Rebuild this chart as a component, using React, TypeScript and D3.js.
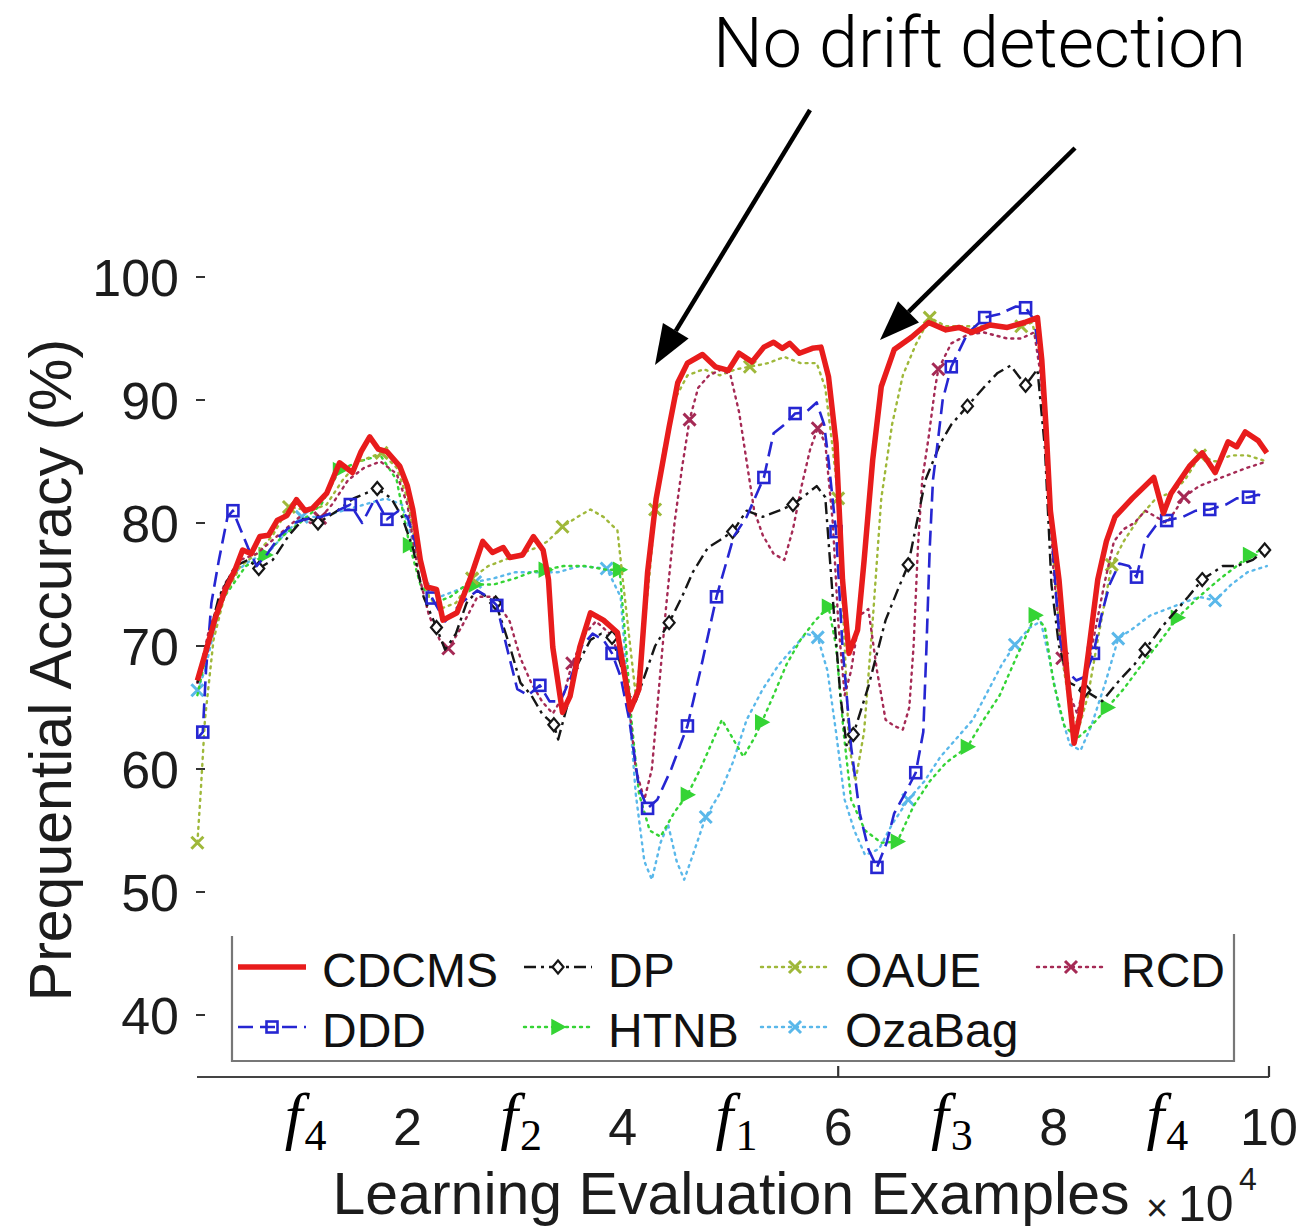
import React from 'react';
import * as d3 from 'd3';

type Pt = [number, number];

// Axis ticks and drift-concept labels (x in units of 10^4 examples)
const xTickValues = [2, 4, 6, 8, 10];
const xTickMarks = [6, 10];
const yTickValues = [40, 50, 60, 70, 80, 90, 100];
const driftPositions = [1, 3, 5, 7, 9];
const driftSubscripts = ['4', '2', '1', '3', '4'];

// Prequential accuracy (%) per method
const cdcms: Pt[] = [
  [0.05, 67.2], [0.12, 69.3], [0.21, 72.1], [0.31, 74.6], [0.40, 76.2], [0.47, 77.8], [0.55, 77.5], [0.63, 78.9],
  [0.71, 79.0], [0.79, 80.2], [0.88, 80.6], [0.97, 81.9], [1.05, 81.0], [1.12, 81.2], [1.25, 82.4], [1.37, 84.9],
  [1.49, 84.1], [1.57, 85.8], [1.65, 87.0], [1.73, 86.0], [1.81, 85.8], [1.93, 84.6], [2.00, 83.0], [2.05, 81.1],
  [2.12, 77.0], [2.18, 74.8], [2.27, 74.6], [2.33, 72.1], [2.46, 72.7], [2.58, 75.4], [2.70, 78.5], [2.79, 77.6],
  [2.89, 78.0], [2.95, 77.2], [3.07, 77.4], [3.17, 78.9], [3.26, 77.8], [3.31, 75.4], [3.35, 69.9], [3.44, 64.6],
  [3.51, 65.9], [3.60, 69.9], [3.70, 72.7], [3.82, 72.1], [3.95, 71.1], [4.02, 67.5], [4.07, 64.8], [4.15, 66.5],
  [4.23, 76.0], [4.31, 82.0], [4.43, 87.8], [4.51, 91.4], [4.60, 93.0], [4.74, 93.7], [4.86, 92.7], [4.98, 92.4],
  [5.08, 93.8], [5.20, 93.1], [5.31, 94.3], [5.40, 94.7], [5.48, 94.2], [5.55, 94.6], [5.64, 93.8], [5.76, 94.2],
  [5.84, 94.3], [5.91, 91.9], [5.98, 86.5], [6.04, 75.4], [6.10, 69.4], [6.18, 71.3], [6.24, 76.9], [6.32, 85.1],
  [6.40, 91.1], [6.52, 94.1], [6.68, 95.1], [6.84, 96.3], [7.00, 95.7], [7.12, 95.9], [7.24, 95.5], [7.41, 96.1],
  [7.57, 95.9], [7.73, 96.3], [7.85, 96.7], [7.89, 93.3], [7.93, 87.8], [7.97, 81.0], [8.05, 75.4], [8.13, 67.2],
  [8.19, 62.1], [8.25, 64.6], [8.33, 69.9], [8.41, 75.4], [8.49, 78.5], [8.57, 80.5], [8.73, 82.0], [8.93, 83.7],
  [9.02, 80.8], [9.09, 82.4], [9.26, 84.6], [9.38, 85.7], [9.50, 84.1], [9.62, 86.6], [9.70, 86.2], [9.78, 87.4],
  [9.90, 86.7], [9.98, 85.7],
];

const dp: Pt[] = [
  [0.05, 67.0], [0.15, 70.5], [0.25, 74.0], [0.40, 76.5], [0.52, 77.0], [0.62, 76.3], [0.75, 77.0], [0.90, 79.0],
  [1.05, 80.5], [1.17, 80.0], [1.35, 81.0], [1.50, 82.0], [1.72, 82.8], [1.85, 82.0], [1.95, 80.5], [2.05, 78.0],
  [2.15, 74.0], [2.27, 71.5], [2.35, 69.7], [2.45, 71.0], [2.55, 73.5], [2.65, 74.5], [2.82, 73.5], [2.95, 70.0],
  [3.05, 67.0], [3.15, 66.0], [3.25, 64.5], [3.36, 63.6], [3.40, 62.4], [3.48, 65.0], [3.58, 68.5], [3.70, 70.5],
  [3.80, 71.0], [3.90, 70.7], [3.98, 68.5], [4.05, 66.0], [4.12, 65.5], [4.20, 67.5], [4.30, 70.0], [4.43, 71.9],
  [4.55, 74.0], [4.65, 76.0], [4.79, 78.0], [4.90, 78.6], [5.02, 79.3], [5.15, 81.0], [5.30, 80.5], [5.45, 81.0],
  [5.58, 81.5], [5.70, 82.3], [5.80, 83.0], [5.88, 82.1], [5.96, 72.7], [6.02, 66.0], [6.08, 61.8], [6.14, 62.8],
  [6.28, 66.7], [6.44, 72.1], [6.55, 74.5], [6.65, 76.6], [6.81, 83.5], [6.95, 86.5], [7.05, 88.0], [7.20, 89.5],
  [7.35, 91.0], [7.48, 92.2], [7.60, 92.8], [7.74, 91.2], [7.85, 92.5], [7.92, 86.0], [7.98, 75.0], [8.05, 70.0],
  [8.15, 67.0], [8.29, 66.4], [8.45, 65.5], [8.61, 67.2], [8.75, 68.5], [8.85, 69.7], [9.00, 71.5], [9.15, 73.0],
  [9.25, 74.0], [9.38, 75.4], [9.57, 76.5], [9.70, 76.5], [9.85, 77.0], [9.96, 77.8],
];
const dpMarks: Pt[] = [
  [0.62, 76.3], [1.17, 80.0], [1.72, 82.8], [2.27, 71.5], [2.82, 73.5], [3.36, 63.6], [3.90, 70.7], [4.43, 71.9],
  [5.02, 79.3], [5.58, 81.5], [6.14, 62.8], [6.65, 76.6], [7.20, 89.5], [7.74, 91.2], [8.29, 66.4], [8.85, 69.7],
  [9.38, 75.4], [9.96, 77.8],
];

const ddd: Pt[] = [
  [0.05, 62.5], [0.10, 63.0], [0.13, 68.0], [0.18, 73.5], [0.25, 77.0], [0.33, 80.5], [0.38, 81.0], [0.45, 79.5],
  [0.52, 78.0], [0.60, 76.5], [0.70, 77.5], [0.82, 79.0], [0.95, 80.0], [1.05, 80.3], [1.20, 80.5], [1.35, 81.0],
  [1.47, 81.5], [1.58, 80.0], [1.70, 82.0], [1.81, 80.3], [1.92, 81.0], [2.00, 80.5], [2.07, 78.5], [2.15, 75.5],
  [2.23, 73.9], [2.35, 72.0], [2.50, 73.5], [2.65, 74.5], [2.75, 74.0], [2.83, 73.3], [2.92, 70.0], [3.02, 66.5],
  [3.12, 66.0], [3.23, 66.8], [3.32, 65.5], [3.42, 65.5], [3.52, 67.5], [3.62, 70.0], [3.72, 71.0], [3.82, 70.5],
  [3.90, 69.4], [3.98, 67.5], [4.06, 64.0], [4.15, 58.5], [4.23, 56.8], [4.32, 57.5], [4.45, 60.0], [4.60, 63.5],
  [4.72, 68.0], [4.87, 74.0], [5.03, 78.9], [5.15, 80.5], [5.31, 83.7], [5.40, 87.3], [5.50, 88.0], [5.60, 88.9],
  [5.70, 89.0], [5.80, 89.8], [5.87, 88.0], [5.91, 85.1], [5.98, 79.3], [6.04, 69.9], [6.12, 61.8], [6.20, 56.4],
  [6.28, 53.5], [6.36, 52.0], [6.45, 54.0], [6.52, 56.4], [6.62, 58.0], [6.72, 59.7], [6.79, 63.0], [6.82, 70.0],
  [6.85, 78.0], [6.88, 83.5], [6.93, 87.0], [6.97, 90.0], [7.05, 92.7], [7.20, 95.4], [7.36, 96.7], [7.50, 97.0],
  [7.65, 97.6], [7.74, 97.5], [7.82, 96.5], [7.88, 93.0], [7.94, 86.0], [8.00, 77.0], [8.05, 71.0], [8.12, 68.0],
  [8.21, 67.2], [8.29, 67.5], [8.37, 69.4], [8.45, 72.7], [8.52, 75.0], [8.61, 76.7], [8.70, 76.5], [8.77, 75.6],
  [8.85, 78.6], [8.95, 79.8], [9.05, 80.2], [9.20, 80.5], [9.32, 81.0], [9.45, 81.1], [9.60, 81.5], [9.70, 82.0],
  [9.81, 82.1], [9.90, 82.3], [9.98, 82.1],
];
const dddMarks: Pt[] = [
  [0.10, 63.0], [0.38, 81.0], [1.47, 81.5], [1.81, 80.3], [2.23, 73.9], [2.83, 73.3], [3.23, 66.8], [3.90, 69.4],
  [4.23, 56.8], [4.60, 63.5], [4.87, 74.0], [5.31, 83.7], [5.60, 88.9], [5.98, 79.3], [6.36, 52.0], [6.72, 59.7],
  [7.05, 92.7], [7.36, 96.7], [7.74, 97.5], [8.37, 69.4], [8.77, 75.6], [9.05, 80.2], [9.45, 81.1], [9.81, 82.1],
];

const oaue: Pt[] = [
  [0.05, 54.0], [0.08, 58.0], [0.12, 64.0], [0.20, 70.5], [0.30, 74.0], [0.45, 76.5], [0.60, 77.5], [0.75, 79.0],
  [0.90, 81.3], [1.10, 81.0], [1.25, 81.5], [1.40, 83.5], [1.55, 85.0], [1.76, 85.7], [1.90, 84.5], [2.00, 82.0],
  [2.10, 77.0], [2.20, 74.0], [2.30, 73.0], [2.45, 73.5], [2.60, 75.5], [2.75, 76.5], [2.90, 77.0], [3.05, 77.5],
  [3.20, 78.0], [3.30, 78.5], [3.44, 79.7], [3.58, 80.5], [3.70, 81.1], [3.82, 80.5], [3.95, 79.4], [4.00, 75.4],
  [4.07, 69.9], [4.12, 66.0], [4.18, 70.0], [4.25, 76.0], [4.30, 81.1], [4.38, 86.0], [4.48, 90.0], [4.60, 92.0],
  [4.75, 92.5], [4.90, 92.0], [5.05, 92.5], [5.18, 92.7], [5.35, 93.0], [5.50, 93.5], [5.65, 93.0], [5.80, 93.0],
  [5.88, 91.0], [5.95, 86.0], [6.00, 82.0], [6.05, 72.0], [6.10, 62.0], [6.16, 59.0], [6.24, 63.0], [6.32, 72.0],
  [6.40, 82.0], [6.50, 88.0], [6.60, 92.0], [6.72, 94.5], [6.85, 96.7], [7.00, 96.0], [7.20, 96.0], [7.40, 96.0],
  [7.60, 96.0], [7.70, 96.0], [7.80, 96.3], [7.87, 94.0], [7.93, 87.0], [8.00, 77.0], [8.08, 69.0], [8.16, 64.5],
  [8.24, 63.5], [8.32, 66.0], [8.42, 71.0], [8.54, 76.6], [8.65, 78.5], [8.80, 80.5], [8.95, 82.0], [9.10, 82.5],
  [9.22, 83.5], [9.36, 85.5], [9.50, 85.0], [9.65, 85.5], [9.80, 85.5], [9.98, 85.0],
];
const oaueMarks: Pt[] = [
  [0.05, 54.0], [0.90, 81.3], [1.76, 85.7], [2.60, 75.5], [3.44, 79.7], [4.30, 81.1], [5.18, 92.7], [6.00, 82.0],
  [6.85, 96.7], [7.70, 96.0], [8.54, 76.6], [9.36, 85.5],
];

const htnb: Pt[] = [
  [0.05, 66.0], [0.15, 70.0], [0.30, 74.0], [0.50, 76.5], [0.68, 77.4], [0.85, 79.0], [1.00, 80.0], [1.20, 81.5],
  [1.37, 84.3], [1.55, 85.0], [1.75, 85.5], [1.90, 83.5], [2.02, 78.2], [2.12, 75.0], [2.25, 73.5], [2.40, 74.0],
  [2.55, 75.0], [2.63, 75.0], [2.80, 75.0], [3.00, 75.5], [3.15, 76.0], [3.28, 76.2], [3.45, 76.5], [3.65, 76.5],
  [3.85, 76.2], [3.97, 76.2], [4.03, 70.0], [4.08, 64.0], [4.15, 58.0], [4.25, 55.0], [4.35, 54.5], [4.48, 56.5],
  [4.60, 57.9], [4.72, 60.0], [4.82, 62.0], [4.92, 64.0], [5.02, 62.5], [5.12, 61.0], [5.22, 62.5], [5.29, 63.8],
  [5.40, 66.0], [5.52, 68.5], [5.65, 70.5], [5.78, 72.0], [5.91, 73.2], [5.98, 70.0], [6.05, 63.0], [6.12, 57.5],
  [6.25, 55.0], [6.40, 54.0], [6.55, 54.1], [6.70, 57.0], [6.85, 59.0], [7.00, 60.5], [7.20, 61.8], [7.35, 64.0],
  [7.50, 66.0], [7.65, 69.0], [7.83, 72.5], [7.92, 71.5], [8.00, 67.0], [8.10, 63.5], [8.22, 62.5], [8.35, 63.5],
  [8.50, 65.0], [8.65, 66.5], [8.82, 68.5], [9.00, 70.5], [9.15, 72.3], [9.35, 74.0], [9.55, 75.5], [9.70, 76.5],
  [9.82, 77.4], [9.98, 78.0],
];
const htnbMarks: Pt[] = [
  [0.68, 77.4], [1.37, 84.3], [2.02, 78.2], [2.63, 75.0], [3.28, 76.2], [3.97, 76.2], [4.60, 57.9], [5.29, 63.8],
  [5.91, 73.2], [6.55, 54.1], [7.20, 61.8], [7.83, 72.5], [8.50, 65.0], [9.15, 72.3], [9.82, 77.4],
];

const ozaBag: Pt[] = [
  [0.05, 66.4], [0.12, 68.0], [0.25, 73.0], [0.40, 76.0], [0.55, 77.0], [0.70, 77.5], [0.85, 79.0], [1.02, 80.5],
  [1.20, 80.5], [1.40, 81.0], [1.60, 81.5], [1.80, 82.0], [1.95, 81.5], [2.05, 78.5], [2.15, 75.5], [2.30, 74.0],
  [2.45, 74.5], [2.63, 75.2], [2.80, 75.5], [3.00, 76.0], [3.20, 76.0], [3.40, 76.0], [3.60, 76.5], [3.85, 76.3],
  [3.98, 74.0], [4.05, 66.0], [4.12, 58.0], [4.20, 52.5], [4.27, 51.0], [4.35, 54.0], [4.42, 55.5], [4.50, 52.5],
  [4.57, 51.0], [4.65, 53.0], [4.77, 56.1], [4.90, 58.0], [5.02, 60.5], [5.15, 64.0], [5.30, 66.5], [5.45, 68.5],
  [5.60, 70.0], [5.70, 71.0], [5.81, 70.7], [5.90, 68.0], [5.98, 63.0], [6.06, 57.5], [6.15, 55.0], [6.25, 53.0],
  [6.38, 53.5], [6.50, 55.5], [6.65, 57.5], [6.80, 59.0], [6.95, 61.0], [7.10, 62.5], [7.25, 64.0], [7.40, 66.5],
  [7.52, 68.5], [7.64, 70.1], [7.78, 71.5], [7.88, 72.0], [7.96, 69.0], [8.05, 65.0], [8.15, 62.0], [8.25, 61.5],
  [8.35, 63.5], [8.48, 67.0], [8.60, 70.6], [8.75, 71.5], [8.90, 72.5], [9.05, 73.0], [9.20, 73.5], [9.35, 74.0],
  [9.50, 73.7], [9.65, 75.0], [9.80, 76.0], [9.98, 76.5],
];
const ozaBagMarks: Pt[] = [
  [0.05, 66.4], [1.02, 80.5], [2.63, 75.2], [3.85, 76.3], [4.77, 56.1], [5.81, 70.7], [6.65, 57.5], [7.64, 70.1],
  [8.60, 70.6], [9.50, 73.7],
];

const rcd: Pt[] = [
  [0.05, 67.0], [0.15, 71.0], [0.30, 75.0], [0.45, 77.0], [0.60, 77.5], [0.80, 79.0], [1.00, 80.5], [1.10, 80.0],
  [1.19, 80.4], [1.30, 81.5], [1.45, 83.5], [1.60, 84.5], [1.75, 85.0], [1.90, 84.0], [2.00, 81.5], [2.10, 76.0],
  [2.20, 72.5], [2.30, 70.5], [2.38, 69.8], [2.50, 71.5], [2.65, 74.0], [2.80, 74.0], [2.95, 72.0], [3.05, 69.0],
  [3.15, 67.0], [3.25, 65.5], [3.35, 64.5], [3.45, 66.0], [3.53, 68.6], [3.65, 71.0], [3.75, 72.0], [3.88, 71.0],
  [3.98, 69.0], [4.06, 65.0], [4.12, 60.0], [4.20, 57.5], [4.27, 60.0], [4.33, 66.0], [4.40, 73.0], [4.48, 80.0],
  [4.55, 84.5], [4.62, 88.4], [4.70, 91.0], [4.80, 92.0], [4.92, 92.5], [5.00, 92.0], [5.08, 89.0], [5.15, 85.0],
  [5.22, 81.0], [5.30, 79.0], [5.40, 77.5], [5.50, 77.0], [5.58, 79.5], [5.66, 83.0], [5.74, 86.0], [5.81, 87.7],
  [5.88, 86.5], [5.95, 80.0], [6.00, 72.0], [6.06, 66.0], [6.12, 68.0], [6.20, 72.5], [6.28, 73.0], [6.36, 68.0],
  [6.44, 64.0], [6.52, 63.5], [6.60, 63.2], [6.66, 65.0], [6.70, 70.0], [6.74, 78.0], [6.78, 83.5], [6.84, 87.0],
  [6.90, 91.0], [6.93, 92.5], [7.05, 94.6], [7.20, 95.3], [7.35, 95.5], [7.57, 95.0], [7.70, 95.0], [7.82, 95.5],
  [7.88, 92.0], [7.94, 85.0], [8.00, 76.0], [8.08, 69.0], [8.15, 66.0], [8.22, 64.5], [8.30, 67.5], [8.38, 71.0],
  [8.47, 75.0], [8.56, 78.5], [8.65, 79.5], [8.75, 80.0], [8.85, 81.0], [8.95, 80.5], [9.05, 80.0], [9.13, 81.0],
  [9.21, 82.1], [9.35, 83.0], [9.50, 83.5], [9.65, 84.0], [9.80, 84.5], [9.98, 85.0],
];
const rcdMarks: Pt[] = [
  [1.19, 80.4], [2.38, 69.8], [3.53, 68.6], [4.62, 88.4], [5.81, 87.7], [6.93, 92.5], [8.08, 69.0], [9.21, 82.1],
];

type MarkerKind = 'none' | 'diamond' | 'square' | 'cross' | 'triangle';

interface SeriesDef {
  name: string;
  data: Pt[];
  marks: Pt[];
  color: string;
  width: number;
  dash: string;
  marker: MarkerKind;
}

const seriesDefs: SeriesDef[] = [
  { name: 'OzaBag', data: ozaBag, marks: ozaBagMarks, color: '#5ab8ea', width: 2.4, dash: '2 5', marker: 'cross' },
  { name: 'HTNB', data: htnb, marks: htnbMarks, color: '#35d435', width: 2.4, dash: '2 5', marker: 'triangle' },
  { name: 'OAUE', data: oaue, marks: oaueMarks, color: '#9fb83a', width: 2.4, dash: '2 5', marker: 'cross' },
  { name: 'RCD', data: rcd, marks: rcdMarks, color: '#a52a55', width: 2.4, dash: '2 5', marker: 'cross' },
  { name: 'DP', data: dp, marks: dpMarks, color: '#161616', width: 2.4, dash: '12 5 3 5', marker: 'diamond' },
  { name: 'DDD', data: ddd, marks: dddMarks, color: '#2626d2', width: 2.6, dash: '15 7', marker: 'square' },
  { name: 'CDCMS', data: cdcms, marks: [], color: '#e81c1c', width: 5.5, dash: '', marker: 'none' },
];

const legendRow1 = ['CDCMS', 'DP', 'OAUE', 'RCD'];
const legendRow2 = ['DDD', 'HTNB', 'OzaBag'];

const FONT = '"Liberation Sans", Arial, Helvetica, sans-serif';

function Marker({ kind, cx, cy, color }: { kind: MarkerKind; cx: number; cy: number; color: string }) {
  if (kind === 'diamond') {
    return <path d={`M${cx},${cy - 6.5}L${cx + 5.5},${cy}L${cx},${cy + 6.5}L${cx - 5.5},${cy}Z`} fill="#fff" stroke={color} strokeWidth={2.2} />;
  }
  if (kind === 'square') {
    return <rect x={cx - 5.5} y={cy - 5.5} width={11} height={11} fill="none" stroke={color} strokeWidth={2.6} />;
  }
  if (kind === 'cross') {
    const s = 6;
    return (
      <path d={`M${cx - s},${cy - s}L${cx + s},${cy + s}M${cx - s},${cy + s}L${cx + s},${cy - s}`} stroke={color} strokeWidth={3} fill="none" />
    );
  }
  if (kind === 'triangle') {
    return <path d={`M${cx - 6},${cy - 7}L${cx + 7},${cy}L${cx - 6},${cy + 7}Z`} fill={color} stroke={color} strokeWidth={1.5} />;
  }
  return null;
}

function Arrow({ x1, y1, x2, y2 }: { x1: number; y1: number; x2: number; y2: number }) {
  const ang = Math.atan2(y2 - y1, x2 - x1);
  const len = 40;
  const half = 15;
  const bx = x2 - len * Math.cos(ang);
  const by = y2 - len * Math.sin(ang);
  const px = -Math.sin(ang) * half;
  const py = Math.cos(ang) * half;
  return (
    <g>
      <line x1={x1} y1={y1} x2={bx} y2={by} stroke="#000" strokeWidth={4.5} />
      <path d={`M${x2},${y2}L${bx + px},${by + py}L${bx - px},${by - py}Z`} fill="#000" />
    </g>
  );
}

export default function App() {
  const x = d3.scaleLinear().domain([0, 10]).range([192, 1269]);
  const y = d3.scaleLinear().domain([40, 100]).range([1015, 277]);
  const axisY = 1077;

  const line = d3
    .line<Pt>()
    .x((d) => x(d[0]))
    .y((d) => y(d[1]))
    .curve(d3.curveLinear);

  const merged = (s: SeriesDef): Pt[] => {
    const all = [...s.data];
    s.marks.forEach((m) => {
      if (!all.some((p) => Math.abs(p[0] - m[0]) < 1e-9)) all.push(m);
    });
    return d3.sort(all, (d) => d[0]);
  };

  const byName = new Map(seriesDefs.map((s) => [s.name, s]));
  const legendCols = [238, 524, 761, 1037];
  const sampleW = 68;
  const legendRows = [legendRow1, legendRow2];
  const rowY = [967, 1027];

  return (
    <svg
      width={1305}
      height={1231}
      viewBox="0 0 1305 1231"
      style={{ position: 'absolute', left: 0, top: 0, background: '#fff' }}
      fontFamily={FONT}
    >
      <rect x={0} y={0} width={1305} height={1231} fill="#fff" />

      {/* annotation */}
      <text x={713} y={67} fontSize={70} fontWeight={300} fontFamily='"Roboto", "Open Sans", "Liberation Sans", sans-serif' fill="#000">
        No drift detection
      </text>
      <Arrow x1={810} y1={110} x2={655} y2={365} />
      <Arrow x1={1075} y1={148} x2={880} y2={340} />

      {/* y ticks */}
      {yTickValues.map((v) => (
        <g key={`yt${v}`}>
          <line x1={196} x2={205} y1={y(v)} y2={y(v)} stroke="#333" strokeWidth={2} />
          <text x={179} y={y(v)} dy="0.36em" textAnchor="end" fontSize={52} fill="#1c1c1c">
            {v}
          </text>
        </g>
      ))}

      {/* series */}
      {seriesDefs.map((s) => (
        <g key={s.name}>
          <path
            d={line(merged(s)) || ''}
            fill="none"
            stroke={s.color}
            strokeWidth={s.width}
            strokeDasharray={s.dash || undefined}
            strokeLinejoin="round"
            strokeLinecap={s.dash.startsWith('2 ') ? 'round' : 'butt'}
          />
          {s.marks.map((m, i) => (
            <Marker key={i} kind={s.marker} cx={x(m[0])} cy={y(m[1])} color={s.color} />
          ))}
        </g>
      ))}

      {/* legend box */}
      <path d="M232,936V1061H1234V934" fill="none" stroke="#777" strokeWidth={2.2} />
      {legendRows.map((row, ri) =>
        row.map((name, ci) => {
          const s = byName.get(name)!;
          const x0 = legendCols[ci];
          const cy = rowY[ri];
          return (
            <g key={name}>
              <line
                x1={x0}
                x2={x0 + sampleW}
                y1={cy}
                y2={cy}
                stroke={s.color}
                strokeWidth={s.width}
                strokeDasharray={s.dash || undefined}
                strokeLinecap={s.dash.startsWith('2 ') ? 'round' : 'butt'}
              />
              <Marker kind={s.marker} cx={x0 + sampleW / 2} cy={cy} color={s.color} />
              <text x={x0 + 84} y={cy + 20} fontSize={48} fill="#111">
                {name}
              </text>
            </g>
          );
        })
      )}

      {/* x axis */}
      <line x1={197} x2={1269} y1={axisY} y2={axisY} stroke="#444" strokeWidth={2.2} />
      {xTickMarks.map((v) => (
        <line key={`xm${v}`} x1={x(v)} x2={x(v)} y1={axisY} y2={axisY - 11} stroke="#333" strokeWidth={2.2} />
      ))}
      {xTickValues.map((v) => (
        <text key={`xt${v}`} x={x(v)} y={1145} textAnchor="middle" fontSize={52} fill="#1c1c1c">
          {v}
        </text>
      ))}
      {driftPositions.map((p, i) => (
        <text
          key={`f${i}`}
          x={x(p) + 6}
          y={1137}
          textAnchor="middle"
          fontFamily='"Liberation Serif", "Times New Roman", serif'
          fill="#000"
        >
          <tspan fontSize={64} fontStyle="italic">f</tspan>
          <tspan fontSize={44} dy={13} dx={2}>{driftSubscripts[i]}</tspan>
        </text>
      ))}

      {/* axis titles */}
      <text x={731} y={1214} textAnchor="middle" fontSize={59} fill="#1c1c1c">
        Learning Evaluation Examples
      </text>
      <text x={1146} y={1221} fontSize={38} fill="#1c1c1c">×</text>
      <text x={1178} y={1221} fontSize={50} fill="#1c1c1c">10</text>
      <text x={1239} y={1190} fontSize={32} fill="#1c1c1c">4</text>
      <text transform="translate(71,670) rotate(-90)" textAnchor="middle" fontSize={59} fill="#1c1c1c">
        Prequential Accuracy (%)
      </text>
    </svg>
  );
}
